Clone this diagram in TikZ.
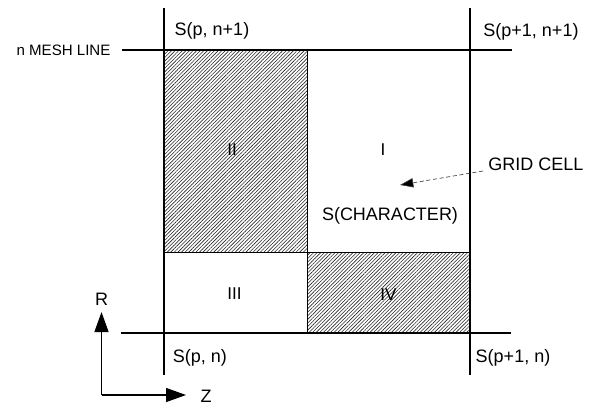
\documentclass[tikz,border=0pt]{standalone}
\usepackage{fontspec}
\setmainfont{Liberation Sans}
\usetikzlibrary{patterns.meta,arrows.meta}
\begin{document}
\begin{tikzpicture}[x=0.75pt,y=-0.75pt,
  gridline/.style={line width=1.1pt,black},
  hatchbox/.style={draw=black,line width=0.4pt,pattern={Lines[angle=45,distance=1.9pt,line width=0.45pt]},pattern color=black!85},
  lbl/.style={inner sep=0pt,anchor=base,font=\fontsize{13.5}{16}\selectfont},
  roman/.style={inner sep=0pt,anchor=base,font=\fontsize{12.8}{15}\selectfont},
  small/.style={inner sep=0pt,anchor=base,font=\fontsize{11.3}{14}\selectfont},
  axis/.style={line width=1pt,-{Triangle[length=15pt,width=10.5pt]}}
]
\useasboundingbox (0,0) rectangle (590,405);
% hatched regions
\path[hatchbox] (164,50) rectangle (307,252);
\path[hatchbox] (307,252) rectangle (470,333);
% grid lines
\coordinate (lt) at (164,8);
\coordinate (lb) at (164,375);
\coordinate (rt) at (470,8);
\coordinate (rb) at (470,375);
\coordinate (tl) at (122,50);
\coordinate (tr) at (512,50);
\coordinate (bl) at (121,333);
\coordinate (br) at (511,333);
\draw[gridline] (lt) -- (lb);
\draw[gridline] (rt) -- (rb);
\draw[gridline] (tl) -- (tr);
\draw[gridline] (bl) -- (br);
% labels
\node[lbl] (spn1) at (212,35) {S(p, n+1)};
\node[lbl] (sp1n1) at (531,36) {S(p+1, n+1)};
\node[small] (mesh) at (63.5,55) {n MESH LINE};
\node[roman] (rII) at (232,155) {II};
\node[roman] (rI) at (383,155) {I};
\node[lbl] (grid) at (536,170) {GRID CELL};
\node[lbl] (schar) at (390,220) {S(CHARACTER)};
\node[roman] (rIII) at (234.5,299) {III};
\node[roman] (rIV) at (388.5,300) {IV};
\node[lbl] (spn) at (200,362) {S(p, n)};
\node[lbl] (sp1n) at (513,362) {S(p+1, n)};
\node[lbl] (R) at (101.5,305) {R};
\node[lbl] (Z) at (206,402) {Z};
% grid cell arrow
\coordinate (gs) at (483,171);
\coordinate (ge) at (400,185);
\draw[line width=0.5pt,densely dashed,black!75,-{Triangle[length=10pt,width=7pt,fill=black]}] (gs) -- (ge);
% axes
\coordinate (o) at (101.5,395);
\coordinate (rtip) at (101.5,312);
\coordinate (ztip) at (186,395);
\draw[axis] (o) -- (rtip);
\draw[axis] (o) -- (ztip);
\end{tikzpicture}
\end{document}
